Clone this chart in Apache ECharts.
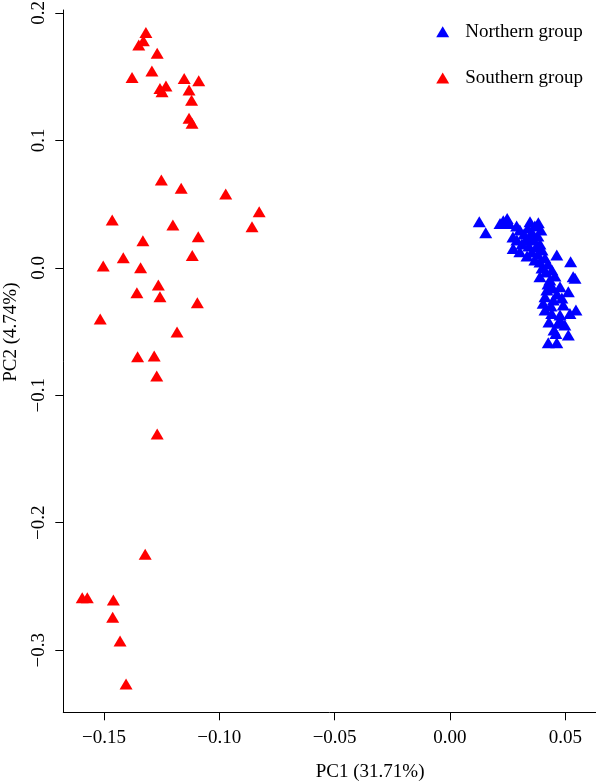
<!DOCTYPE html>
<html>
<head>
<meta charset="utf-8">
<script src="https://cdn.jsdelivr.net/npm/echarts@6/dist/echarts.min.js"></script>
<style>
    html, body { margin: 0; padding: 0; background: #fff; }
    #pca { width: 596px; height: 782px; }
</style>
</head>
<body>
<div id="pca"></div>
<script>
// PCA scores, [PC1, PC2]
const southernGroup = [
    [-0.1318, 0.1846], [-0.1329, 0.1780], [-0.1349, 0.1747], [-0.1269, 0.1682],
    [-0.1378, 0.1493], [-0.1292, 0.1543], [-0.1257, 0.1407], [-0.1231, 0.1425],
    [-0.1248, 0.1380], [-0.1152, 0.1485], [-0.1089, 0.1467], [-0.1131, 0.1394],
    [-0.1120, 0.1315], [-0.1131, 0.1172], [-0.1118, 0.1133], [-0.1251, 0.0688],
    [-0.1165, 0.0623], [-0.0972, 0.0578], [-0.0827, 0.0439], [-0.0858, 0.0322],
    [-0.1464, 0.0374], [-0.1201, 0.0335], [-0.1091, 0.0243], [-0.1331, 0.0212],
    [-0.1117, 0.0097], [-0.1416, 0.0078], [-0.1503, 0.0013], [-0.1341, 0.0000],
    [-0.1264, -0.0136], [-0.1357, -0.0196], [-0.1257, -0.0227], [-0.1095, -0.0275],
    [-0.1516, -0.0402], [-0.1183, -0.0504], [-0.1354, -0.0698], [-0.1282, -0.0693],
    [-0.1271, -0.0849], [-0.1269, -0.1304], [-0.1321, -0.2248], [-0.1594, -0.2588],
    [-0.1572, -0.2588], [-0.1459, -0.2606], [-0.1462, -0.2742], [-0.1430, -0.2928],
    [-0.1404, -0.3265]
];

const northernGroup = [
    [0.0127, 0.0361], [0.0155, 0.0275], [0.0217, 0.0348], [0.0231, 0.0369],
    [0.0248, 0.0387], [0.0257, 0.0348], [0.0289, 0.0327], [0.0347, 0.0361],
    [0.0383, 0.0353], [0.0274, 0.0152], [0.0303, 0.0125], [0.0463, 0.0100],
    [0.0523, 0.0047], [0.0534, -0.0071], [0.0542, -0.0083], [0.0390, -0.0071],
    [0.0433, -0.0096], [0.0477, -0.0149], [0.0513, -0.0188], [0.0412, -0.0227],
    [0.0404, -0.0279], [0.0448, -0.0253], [0.0491, -0.0293], [0.0546, -0.0332],
    [0.0441, -0.0358], [0.0477, -0.0371], [0.0520, -0.0358], [0.0469, -0.0436],
    [0.0498, -0.0449], [0.0513, -0.0528], [0.0459, -0.0515], [0.0426, -0.0588],
    [0.0463, -0.0588], [0.0303, 0.0296], [0.0321, 0.0264], [0.0338, 0.0311],
    [0.0355, 0.0280], [0.0368, 0.0327], [0.0329, 0.0217], [0.0347, 0.0233],
    [0.0364, 0.0217], [0.0381, 0.0249], [0.0394, 0.0296], [0.0312, 0.0186],
    [0.0342, 0.0170], [0.0373, 0.0162], [0.0390, 0.0186], [0.0355, 0.0123],
    [0.0381, 0.0107], [0.0399, 0.0139], [0.0334, 0.0092], [0.0368, 0.0060],
    [0.0390, 0.0045], [0.0412, 0.0076], [0.0425, 0.0029], [0.0399, -0.0002],
    [0.0416, -0.0034], [0.0442, -0.0018], [0.0455, -0.0065], [0.0425, -0.0128],
    [0.0446, -0.0159], [0.0464, -0.0206], [0.0420, -0.0175], [0.0485, -0.0237],
    [0.0438, -0.0300], [0.0412, -0.0331], [0.0477, -0.0410], [0.0429, -0.0426],
    [0.0451, -0.0488], [0.0273, 0.0241], [0.0290, 0.0217]
];

const xTicks = [-0.15, -0.10, -0.05, 0.00, 0.05];
const yTicks = [-0.3, -0.2, -0.1, 0.0, 0.1, 0.2];

const seriesNames = ['Northern group', 'Southern group'];
const seriesColors = ['#0000ff', '#ff0000'];

const FONT = '"Liberation Serif", "Times New Roman", serif';

// R style numbers with a real minus sign
function fmt(v, digits) {
    const s = Math.abs(v).toFixed(digits);
    return (v < -1e-9 ? '\u2212' : '') + s;
}

const chart = echarts.init(document.getElementById('pca'));

const option = {
    animation: false,
    backgroundColor: '#fff',
    grid: {
        left: 63.3,
        right: 0,
        top: 10,
        bottom: 69.7,
        containLabel: false,
        outerBoundsMode: 'none'
    },
    legend: {
        orient: 'vertical',
        left: 436.2,
        top: 22.2,
        padding: 0,
        itemWidth: 13,
        itemHeight: 11,
        itemGap: 27.3,
        icon: 'triangle',
        data: seriesNames,
        textStyle: {
            fontFamily: FONT,
            fontSize: 19,
            lineHeight: 19,
            color: '#000',
            padding: [0, 0, 0, 11]
        }
    },
    xAxis: {
        type: 'value',
        min: -0.1676,
        max: 0.0633,
        name: 'PC1 (31.71%)',
        nameLocation: 'middle',
        nameGap: 50,
        nameTextStyle: {
            fontFamily: FONT,
            fontSize: 19,
            lineHeight: 19,
            color: '#000',
            padding: [0, 0, 0, 81]
        },
        splitLine: { show: false },
        axisLine: { onZero: false, lineStyle: { color: '#000', width: 1 } },
        axisTick: {
            customValues: xTicks,
            length: 8,
            lineStyle: { color: '#000', width: 1 }
        },
        axisLabel: {
            customValues: xTicks,
            margin: 16,
            fontFamily: FONT,
            fontSize: 19,
            lineHeight: 19,
            color: '#000',
            formatter: v => fmt(v, 2)
        }
    },
    yAxis: {
        type: 'value',
        min: -0.3487,
        max: 0.2022,
        name: 'PC2 (4.74%)',
        nameLocation: 'middle',
        nameGap: 43,
        nameTextStyle: {
            fontFamily: FONT,
            fontSize: 19,
            lineHeight: 19,
            color: '#000',
            padding: [0, 0, 0, 58]
        },
        splitLine: { show: false },
        axisLine: { show: true, onZero: false, lineStyle: { color: '#000', width: 1 } },
        axisTick: {
            show: true,
            customValues: yTicks,
            length: 8,
            lineStyle: { color: '#000', width: 1 }
        },
        axisLabel: {
            customValues: yTicks,
            rotate: 90,
            margin: 14.5,
            fontFamily: FONT,
            fontSize: 19,
            lineHeight: 19,
            color: '#000',
            formatter: v => fmt(v, 1)
        }
    },
    series: [
        {
            name: seriesNames[0],
            type: 'scatter',
            symbol: 'triangle',
            symbolSize: [13, 11],
            itemStyle: { color: seriesColors[0], opacity: 1 },
            data: northernGroup
        },
        {
            name: seriesNames[1],
            type: 'scatter',
            symbol: 'triangle',
            symbolSize: [13, 11],
            itemStyle: { color: seriesColors[1], opacity: 1 },
            data: southernGroup
        }
    ]
};

chart.setOption(option);
</script>
</body>
</html>
